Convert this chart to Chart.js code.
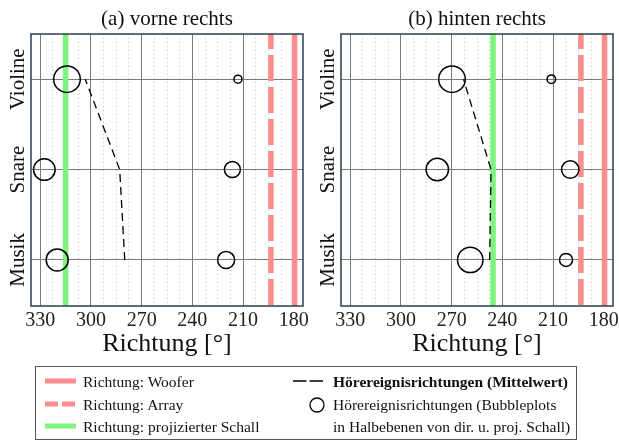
<!DOCTYPE html>
<html>
<head>
<meta charset="utf-8">
<script src="https://cdn.jsdelivr.net/npm/chart.js@4.4.1/dist/chart.umd.min.js"></script>
<style>
  body { margin: 0; background: #fff; width: 619px; height: 441px; position: relative; overflow: hidden; font-family: "Liberation Serif", serif; }
  canvas { position: absolute; top: 0; }
  #legendBox { position: absolute; left: 35px; top: 366px; width: 542px; height: 74px; border: 1px solid #555; box-sizing: border-box; }
  .lt { position: absolute; font-size: 15.5px; line-height: 20px; height: 20px; white-space: nowrap; color: #111; }
  .lt b { font-weight: bold; }
  #legendSvg { position: absolute; left: 0; top: 0; }
</style>
</head>
<body>
<canvas id="panelA" width="312" height="360" style="left:0px"></canvas>
<canvas id="panelB" width="307" height="360" style="left:312px"></canvas>

<div id="legendBox"></div>
<svg id="legendSvg" width="619" height="441">
  <line x1="45" y1="381" x2="76" y2="381" stroke="rgb(255,140,140)" stroke-width="5"/>
  <line x1="45" y1="404" x2="76" y2="404" stroke="rgb(255,140,140)" stroke-width="5" stroke-dasharray="13 4"/>
  <line x1="45" y1="426" x2="76" y2="426" stroke="rgb(128,242,128)" stroke-width="5"/>
  <line x1="293" y1="381" x2="323" y2="381" stroke="#000" stroke-width="1.5" stroke-dasharray="13.5 3"/>
  <circle cx="317" cy="405" r="7" fill="none" stroke="#000" stroke-width="1.3"/>
</svg>
<span class="lt" style="left:83px;top:372px">Richtung: Woofer</span>
<span class="lt" style="left:83px;top:395px">Richtung: Array</span>
<span class="lt" style="left:83px;top:417px">Richtung: projizierter Schall</span>
<span class="lt" style="left:333px;top:372px"><b>Hörereignisrichtungen (Mittelwert)</b></span>
<span class="lt" style="left:333px;top:395px">Hörereignisrichtungen (Bubbleplots</span>
<span class="lt" style="left:333px;top:417px">in Halbebenen von dir. u. proj. Schall)</span>

<script>
// categories on the y axis (bottom to top)
const categories = ['Musik', 'Snare', 'Violine'];
const catPos = [1, 2, 3];
const xTicks = [330, 300, 270, 240, 210, 180];
const xMin = 174.5, xMax = 335.5;
const yMin = 0.49, yMax = 3.5;

// (a) vorne rechts
const wooferA = 179.5;
const arrayA = 193.5;
const projA = 315;
const bubbleDirA = [220, 320, 216.3, 327.6, 213, 314.2];
const bubbleCatA = [1, 1, 2, 2, 3, 3];
const bubbleSizeA = [8.5, 11, 8, 10.8, 4, 13.3];
const meanA = [280, 283, 303.4];

// (b) hinten rechts
const wooferB = 179.5;
const arrayB = 193.5;
const projB = 245.5;
const bubbleDirB = [202.3, 259, 199.8, 278.5, 211, 269.8];
const bubbleCatB = [1, 1, 2, 2, 3, 3];
const bubbleSizeB = [6.5, 12.7, 8.7, 11.2, 4.3, 13.3];
const meanB = [247.5, 246.7, 263];

const serif = 'Liberation Serif';
const red = 'rgb(255,140,140)';
const green = 'rgb(128,242,128)';

function vline(x, color, dash, offset) {
    return {
        type: 'line',
        data: [{ x: x, y: yMax }, { x: x, y: yMin }],
        borderColor: color,
        borderWidth: 5.5,
        borderDash: dash || [],
        borderDashOffset: offset || 0,
        borderCapStyle: 'butt',
        pointRadius: 0,
        fill: false
    };
}

const decor = {
    id: 'decor',
    afterDraw(chart, args, opts) {
        const ctx = chart.ctx;
        const a = chart.chartArea;
        const ys = chart.scales.y;
        ctx.save();
        // frame
        ctx.strokeStyle = '#24404f';
        ctx.lineWidth = 1.5;
        ctx.strokeRect(a.left, a.top, a.right - a.left, a.bottom - a.top);
        // title
        ctx.fillStyle = '#111';
        ctx.font = '21px "' + serif + '"';
        ctx.textAlign = 'center';
        ctx.textBaseline = 'middle';
        ctx.fillText(opts.title, (a.left + a.right) / 2, 19);
        // rotated category labels
        categories.forEach((c, i) => {
            const y = ys.getPixelForValue(catPos[i]);
            ctx.save();
            ctx.translate(a.left - 13, y);
            ctx.rotate(-Math.PI / 2);
            ctx.fillText(c, 0, 0);
            ctx.restore();
        });
        ctx.restore();
    }
};

function makePanel(id, title, yW, padRight, woofer, array, proj, bDir, bCat, bSize, mean) {
    const bubbles = bDir.map((x, i) => ({ x: x, y: bCat[i], r: bSize[i] }));
    const meanPts = catPos.map((y, i) => ({ x: mean[i], y: y }));
    return new Chart(document.getElementById(id), {
        type: 'bubble',
        data: {
            datasets: [
                {
                    type: 'bubble',
                    data: bubbles,
                    backgroundColor: 'rgba(0,0,0,0)',
                    borderColor: '#000',
                    borderWidth: 1.5
                },
                {
                    type: 'line',
                    data: meanPts,
                    borderColor: '#000',
                    borderWidth: 1.3,
                    borderDash: [8, 5],
                    pointRadius: 0,
                    fill: false
                },
                vline(proj, green),
                vline(array, red, [26, 6], 11),
                vline(woofer, red)
            ]
        },
        options: {
            responsive: false,
            animation: false,
            layout: { autoPadding: false, padding: { left: 0, right: padRight, top: 34, bottom: 0 } },
            plugins: { legend: { display: false }, tooltip: { enabled: false }, decor: { title: title } },
            scales: {
                x: {
                    type: 'linear',
                    reverse: true,
                    min: xMin,
                    max: xMax,
                    ticks: {
                        stepSize: 7.5,
                        includeBounds: false,
                        autoSkip: false,
                        maxRotation: 0,
                        padding: 3,
                        color: '#222',
                        font: { family: serif, size: 20 },
                        callback: v => xTicks.includes(v) ? String(v) : ''
                    },
                    grid: {
                        drawTicks: false,
                        lineWidth: 1,
                        color: c => (c.tick && c.tick.value % 30 === 0) ? '#7a7a7a' : '#c4c4c4'
                    },
                    border: {
                        display: false,
                        dash: c => (c.tick && c.tick.value % 30 !== 0) ? [1, 3] : []
                    },
                    title: {
                        display: true,
                        text: 'Richtung [°]',
                        color: '#111',
                        padding: 0,
                        font: { family: serif, size: 26 }
                    },
                    afterFit: s => { s.height = 54; s.paddingLeft = 0; s.paddingRight = 0; }
                },
                y: {
                    type: 'linear',
                    min: yMin,
                    max: yMax,
                    ticks: { stepSize: 1, includeBounds: false, display: false },
                    grid: { drawTicks: false, color: '#7a7a7a', lineWidth: 1 },
                    border: { display: false },
                    afterFit: s => { s.width = yW; s.paddingTop = 0; s.paddingBottom = 0; }
                }
            }
        },
        plugins: [decor]
    });
}

makePanel('panelA', '(a) vorne rechts', 31, 9, wooferA, arrayA, projA, bubbleDirA, bubbleCatA, bubbleSizeA, meanA);
makePanel('panelB', '(b) hinten rechts', 29, 6, wooferB, arrayB, projB, bubbleDirB, bubbleCatB, bubbleSizeB, meanB);
</script>
</body>
</html>
